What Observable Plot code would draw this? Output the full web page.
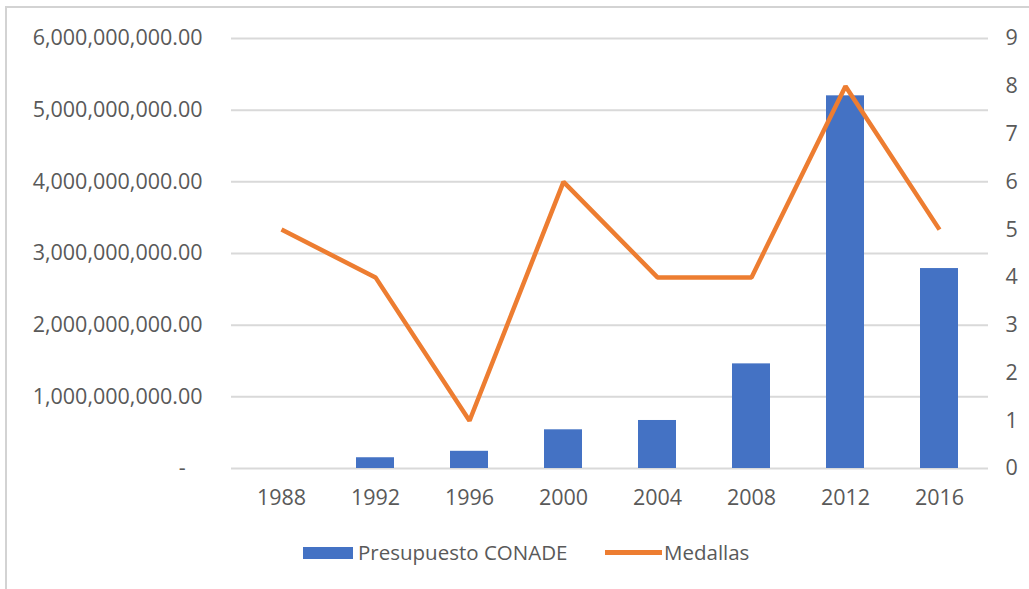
<!DOCTYPE html>
<html>
<head>
<meta charset="utf-8">
<script src="https://cdn.jsdelivr.net/npm/d3@7"></script>
<script src="https://cdn.jsdelivr.net/npm/@observablehq/plot@0.6"></script>
<style>
  body { margin: 0; background: #fff; font-family: "Open Sans", sans-serif; }
  #page { position: relative; width: 1029px; height: 589px; overflow: hidden; }
  #frame { position: absolute; left: 5px; top: 6px; right: 0; bottom: 0; border-left: 2px solid #d3d3d3; border-top: 2px solid #d3d3d3; }
  #chart { position: absolute; left: 0; top: 0; }
  #legend { position: absolute; top: 538px; left: 0; width: 1029px; height: 28px; font-size: 20.5px; color: #595959; }
  .item { position: absolute; top: 0; line-height: 28px; white-space: nowrap; }
  .sw { position: absolute; }
</style>
</head>
<body>
<div id="page">
  <div id="frame"></div>
  <div id="chart"></div>
  <div id="legend"></div>
</div>
<script>
const years = ["1988", "1992", "1996", "2000", "2004", "2008", "2012", "2016"];
const budget = [0, 0.15e9, 0.24e9, 0.54e9, 0.67e9, 1.46e9, 5.2e9, 2.79e9];
const medals = [5, 4, 1, 6, 4, 4, 8, 5];
const leftTicks = [0, 1e9, 2e9, 3e9, 4e9, 5e9, 6e9];
const rightTicks = [0, 1, 2, 3, 4, 5, 6, 7, 8, 9];
const seriesNames = ["Presupuesto CONADE", "Medallas"];
const colors = ["#4472c4", "#ed7d31"];

const k = 6e9 / 9;
const data = years.map((y, i) => ({year: y, budget: budget[i], medals: medals[i]}));
const fmt = d3.format(",.2f");

const chart = Plot.plot({
  width: 1029,
  height: 520,
  marginTop: 38,
  marginBottom: 52,
  marginLeft: 231,
  marginRight: 41,
  style: {fontFamily: "'Open Sans', sans-serif", fontSize: "21.5px", color: "#595959", background: "transparent"},
  x: {type: "band", domain: years, paddingInner: 0.6, paddingOuter: 0.3, label: null},
  y: {domain: [0, 6e9], label: null},
  marks: [
    Plot.gridY(leftTicks, {stroke: "#d9d9d9", strokeOpacity: 1, strokeWidth: 2}),
    Plot.barY(data, {x: "year", y: "budget", fill: colors[0]}),
    Plot.lineY(data, {x: "year", y: d => d.medals * k, stroke: colors[1], strokeWidth: 4.5, strokeLinejoin: "miter", strokeLinecap: "butt"}),
    Plot.axisY(leftTicks, {anchor: "left", tickSize: 0, tickPadding: 29, label: null,
      tickFormat: d => d === 0 ? "-\u00a0\u00a0\u00a0" : fmt(d), fill: "#595959"}),
    Plot.axisY(rightTicks.map(t => t * k), {anchor: "right", tickSize: 0, tickPadding: 17, label: null,
      tickFormat: d => String(Math.round(d / k)), fill: "#595959"}),
    Plot.axisX({tickSize: 0, tickPadding: 21, label: null, fill: "#595959"})
  ]
});
document.getElementById("chart").appendChild(chart);

const legend = document.getElementById("legend");
legend.innerHTML = `
  <div class="sw" style="left:303px;top:9px;width:50px;height:12px;background:${colors[0]}"></div>
  <div class="item" style="left:358px">${seriesNames[0]}</div>
  <div class="sw" style="left:605px;top:12px;width:57px;height:5px;background:${colors[1]}"></div>
  <div class="item" style="left:664px">${seriesNames[1]}</div>
`;
</script>
</body>
</html>
